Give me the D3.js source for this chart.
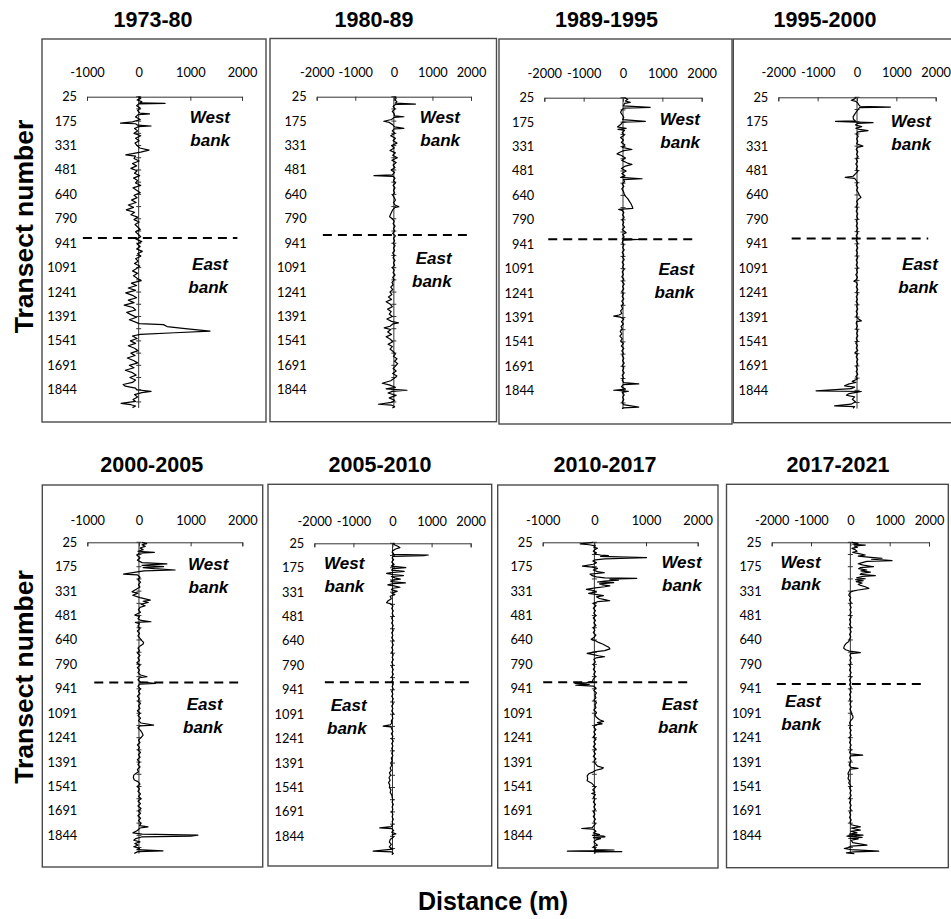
<!DOCTYPE html>
<html>
<head>
<meta charset="utf-8">
<title>Shoreline change by transect</title>
<script src="https://cdnjs.cloudflare.com/ajax/libs/d3/7.8.5/d3.min.js"></script>
<style>
  body { margin: 0; background: #fff; }
  .tick-lbl { font-family: Lato, "Open Sans", sans-serif; font-size: 12.8px; fill: #000; }
  .ttl { font-family: "Liberation Sans", Arial, sans-serif; font-weight: bold; }
  .bank { font-family: "Liberation Sans", Arial, sans-serif; font-weight: bold; font-style: italic; font-size: 17px; }
</style>
</head>
<body>
<script>
var width = 951,
    height = 919;

// periods (one panel each)
var titles = ["1973-80", "1980-89", "1989-1995", "1995-2000",
              "2000-2005", "2005-2010", "2010-2017", "2017-2021"];

// transect labels on the category axis (one every 150 transects)
var tickLabels = ["25", "175", "331", "481", "640", "790", "941",
                  "1091", "1241", "1391", "1541", "1691", "1844"];
var nTransects = 1912;

// value axis (distance, m) for every panel
var domains = [[-1000, 2000], [-2000, 2000], [-2000, 2000], [-2000, 2000],
               [-1000, 2000], [-2000, 2000], [-1000, 2000], [-2000, 2000]];
var distTicks = [[-1000, 0, 1000, 2000], [-2000, -1000, 0, 1000, 2000],
                 [-2000, -1000, 0, 1000, 2000], [-2000, -1000, 0, 1000, 2000],
                 [-1000, 0, 1000, 2000], [-2000, -1000, 0, 1000, 2000],
                 [-1000, 0, 1000, 2000], [-2000, -1000, 0, 1000, 2000]];

// where the west / east bank split sits (transect position)
var bankSplit = [868, 850, 870, 867, 861, 854, 860, 870];

// [transect position, distance m]
var s1973 = [[0,0],[10,40],[20,-30],[30,60],[38,20],[41,510],[44,0],[55,-40],[70,30],[85,-20],[100,20],[106,210],[110,-10],[125,-60],[140,30],[155,-120],[162,-350],[166,-60],[175,-20],[180,240],[184,0],[195,-80],[210,-20],[225,-90],[240,40],[255,-60],[270,10],[285,-70],[300,-30],[315,20],[328,200],[340,40],[350,-120],[357,-250],[365,-60],[380,-90],[395,10],[410,-120],[425,-40],[440,-150],[455,-30],[470,-80],[485,20],[500,-100],[515,-20],[530,-60],[545,40],[560,-110],[575,-40],[590,30],[605,-90],[620,-30],[635,-140],[650,-50],[665,-200],[680,-100],[695,-240],[710,-80],[725,-150],[740,-20],[755,-90],[770,10],[785,-70],[800,-20],[815,30],[830,-60],[845,-10],[860,40],[875,-50],[890,60],[905,-30],[920,30],[935,-40],[950,70],[965,-20],[980,40],[995,-60],[1010,-10],[1025,-80],[1040,20],[1055,-40],[1070,-120],[1085,-20],[1100,-100],[1115,-30],[1130,50],[1145,-140],[1160,-40],[1175,-200],[1190,-60],[1205,-250],[1220,-120],[1235,-40],[1250,-200],[1265,-90],[1280,-280],[1295,-110],[1310,-60],[1325,-230],[1340,-140],[1355,-40],[1370,-180],[1385,-60],[1394,10],[1400,480],[1412,550],[1425,900],[1440,1380],[1450,700],[1460,30],[1470,-120],[1485,-30],[1500,-160],[1515,-60],[1530,-200],[1545,-80],[1560,-10],[1575,-150],[1590,-70],[1605,-220],[1620,-100],[1635,-20],[1650,-180],[1665,-90],[1680,-260],[1695,-120],[1710,-50],[1725,-170],[1740,-60],[1755,-120],[1768,-300],[1778,-260],[1790,-60],[1800,-40],[1810,240],[1818,60],[1830,-80],[1845,-20],[1860,-110],[1872,-60],[1884,-340],[1892,-150],[1900,-60],[1910,-120]];

var s1980 = [[0,20],[10,60],[20,30],[30,80],[40,40],[45,560],[48,40],[60,-20],[75,30],[90,-40],[105,10],[118,20],[123,260],[127,10],[140,-60],[151,-260],[158,-120],[170,-40],[185,20],[194,260],[198,10],[210,-40],[225,30],[240,-80],[255,40],[270,-20],[285,80],[300,-60],[315,10],[330,-100],[345,40],[360,-30],[375,90],[390,-50],[405,60],[420,-20],[435,30],[450,-70],[465,20],[480,-40],[485,-515],[489,-20],[500,30],[515,-10],[530,40],[545,-20],[560,30],[575,-10],[590,20],[605,-30],[620,10],[635,40],[650,-10],[665,30],[676,130],[682,20],[695,-30],[710,-60],[725,-90],[737,-110],[750,-40],[765,10],[780,-20],[795,30],[810,-10],[825,20],[840,-30],[855,40],[870,-10],[885,20],[900,-20],[915,30],[930,-10],[945,20],[960,-30],[975,10],[990,-20],[1005,30],[1020,-10],[1035,20],[1050,-40],[1065,10],[1080,-20],[1095,30],[1110,-30],[1125,10],[1140,-50],[1155,-20],[1170,-80],[1185,-30],[1200,-100],[1215,-50],[1230,-140],[1245,-60],[1260,-200],[1275,-90],[1290,-40],[1305,-160],[1320,-70],[1335,-120],[1350,-40],[1365,-180],[1380,-60],[1389,120],[1395,-20],[1410,-100],[1420,-250],[1430,-80],[1445,-160],[1460,-60],[1475,-200],[1490,-90],[1505,-30],[1520,-150],[1535,-40],[1550,-100],[1565,-20],[1580,40],[1595,-10],[1610,80],[1625,20],[1640,100],[1655,40],[1670,-20],[1685,60],[1700,-30],[1715,80],[1730,10],[1745,-80],[1760,-300],[1770,-120],[1785,40],[1795,-200],[1803,340],[1810,-40],[1820,-150],[1835,60],[1850,-120],[1865,20],[1878,-60],[1889,-400],[1895,-50],[1905,20],[1912,-40]];

var s1989 = [[0,40],[10,120],[20,60],[29,185],[35,40],[50,10],[60,690],[64,20],[75,-30],[90,-60],[105,-20],[120,20],[135,-10],[146,566],[150,-10],[165,-60],[180,-140],[188,80],[194,-130],[200,40],[215,-20],[230,30],[245,-60],[260,10],[275,-40],[290,50],[305,-20],[318,228],[325,20],[335,-80],[345,-150],[355,-40],[370,60],[385,-30],[400,100],[410,228],[420,60],[435,-40],[450,80],[465,-30],[480,50],[490,-60],[498,485],[503,10],[515,40],[530,-20],[545,20],[560,-30],[575,10],[590,30],[605,60],[620,120],[635,160],[650,200],[665,230],[680,250],[686,-110],[692,-20],[705,20],[720,-10],[735,30],[750,-20],[765,20],[780,-10],[795,40],[810,-20],[830,80],[840,-10],[855,30],[868,-20],[871,400],[875,0],[890,-20],[905,20],[920,-10],[935,30],[950,-20],[965,20],[980,-10],[995,30],[1010,-20],[1025,20],[1040,-10],[1055,30],[1070,-20],[1085,10],[1100,-30],[1115,20],[1130,-20],[1145,30],[1160,-10],[1175,20],[1190,-30],[1205,10],[1220,-20],[1235,20],[1250,-30],[1265,10],[1280,-40],[1295,-10],[1310,-60],[1325,-30],[1335,-100],[1342,-236],[1348,-60],[1360,20],[1375,-40],[1390,10],[1405,-50],[1420,-20],[1435,-70],[1450,-30],[1465,-80],[1480,-20],[1495,-60],[1510,10],[1525,-40],[1540,20],[1555,-30],[1570,10],[1585,-20],[1600,20],[1615,-10],[1630,30],[1645,-20],[1660,20],[1675,-10],[1690,30],[1705,-20],[1720,10],[1735,-20],[1750,20],[1758,400],[1762,10],[1775,-40],[1790,60],[1797,-236],[1803,140],[1810,-20],[1825,30],[1840,-10],[1855,20],[1870,-20],[1885,10],[1901,400],[1905,0],[1912,-20]];

var s1995 = [[0,-20],[10,-60],[18,-145],[25,-30],[35,20],[45,40],[55,80],[60,850],[64,60],[75,30],[90,-20],[105,-60],[120,-100],[135,-90],[145,-40],[148,-545],[152,-20],[156,408],[160,20],[170,-40],[180,120],[190,-30],[197,60],[205,280],[212,20],[225,-10],[240,30],[255,-10],[270,20],[285,-10],[300,150],[308,10],[320,-20],[335,20],[350,-10],[365,30],[380,-20],[395,10],[410,-30],[425,10],[440,-20],[455,20],[470,-40],[485,-100],[492,-300],[498,-60],[510,-20],[525,10],[540,-20],[555,20],[570,-10],[585,30],[600,60],[615,100],[625,40],[640,-10],[655,20],[670,-20],[685,10],[700,-20],[715,20],[730,-10],[745,20],[760,-20],[775,10],[790,-20],[805,20],[820,-10],[835,20],[850,-20],[865,10],[880,-20],[895,20],[910,-10],[925,20],[940,-20],[955,10],[970,-10],[985,20],[1000,-20],[1015,10],[1030,-20],[1045,20],[1060,-10],[1075,10],[1090,-30],[1105,10],[1120,-20],[1130,-80],[1135,-20],[1150,10],[1165,-20],[1180,20],[1195,-10],[1210,20],[1225,-20],[1240,10],[1255,-20],[1270,20],[1285,-10],[1300,20],[1315,-20],[1330,10],[1345,-20],[1360,30],[1373,110],[1378,-10],[1390,-20],[1405,10],[1420,-20],[1435,20],[1450,-10],[1465,20],[1480,-20],[1495,10],[1510,-30],[1525,10],[1540,-20],[1555,20],[1568,-50],[1580,10],[1595,-20],[1610,20],[1625,-10],[1640,20],[1655,-20],[1670,10],[1685,-20],[1700,20],[1715,-30],[1730,10],[1745,-120],[1752,-30],[1760,-200],[1772,-315],[1780,-60],[1790,-150],[1803,-1040],[1807,110],[1812,-20],[1820,-200],[1830,-270],[1840,-60],[1855,-120],[1870,-40],[1885,-150],[1895,-570],[1900,-60],[1910,-100]];

var s2000 = [[0,60],[8,150],[15,60],[25,120],[35,20],[45,80],[55,-20],[62,297],[66,0],[80,-40],[95,20],[110,-30],[125,60],[133,540],[137,250],[142,60],[150,477],[155,80],[162,300],[170,700],[175,100],[183,-60],[195,-300],[200,-30],[215,20],[230,-20],[245,30],[260,-10],[275,20],[290,-60],[304,-135],[312,-20],[325,-120],[340,20],[355,220],[362,80],[370,180],[380,40],[390,120],[400,20],[415,-10],[430,30],[447,-80],[455,10],[470,-20],[480,40],[488,232],[492,-70],[500,10],[515,-20],[530,20],[545,-30],[560,10],[575,-20],[590,20],[605,60],[615,90],[625,80],[635,30],[650,-20],[665,10],[680,-30],[695,20],[710,-20],[725,10],[740,-40],[755,20],[770,-30],[785,10],[800,-20],[815,30],[826,155],[832,10],[845,-20],[858,30],[867,316],[871,10],[885,-20],[900,30],[915,-10],[930,20],[945,-30],[960,10],[975,-20],[990,30],[1005,-10],[1020,20],[1035,-30],[1050,20],[1065,-20],[1080,30],[1095,-10],[1110,40],[1123,284],[1128,20],[1140,-20],[1155,30],[1170,60],[1185,80],[1200,40],[1215,-10],[1230,20],[1245,-30],[1260,10],[1275,-20],[1290,30],[1305,-10],[1320,20],[1335,-30],[1350,10],[1365,-20],[1380,20],[1395,-30],[1410,-10],[1420,-60],[1430,-100],[1445,-110],[1460,-90],[1470,-20],[1485,20],[1500,-30],[1515,10],[1530,-20],[1545,30],[1560,-10],[1575,40],[1590,-20],[1605,30],[1620,-20],[1635,40],[1650,-10],[1665,30],[1680,-20],[1695,30],[1710,-10],[1725,40],[1740,10],[1748,175],[1755,20],[1770,-30],[1785,-116],[1792,60],[1799,1140],[1805,1000],[1810,50],[1820,-60],[1830,-100],[1840,20],[1850,-80],[1860,-20],[1870,-100],[1880,10],[1888,-40],[1895,465],[1900,-20],[1911,-90]];

var s2005 = [[0,10],[10,60],[20,150],[27,190],[35,80],[45,10],[55,-10],[62,30],[68,20],[72,915],[76,800],[80,20],[90,-10],[100,30],[115,-20],[130,40],[140,-30],[150,340],[155,10],[165,-20],[172,300],[178,20],[185,-150],[192,20],[198,280],[204,-30],[212,60],[220,200],[226,10],[235,-40],[243,330],[248,20],[255,-120],[262,40],[270,190],[276,10],[285,-30],[295,120],[305,-20],[315,60],[325,-60],[340,-30],[355,-120],[365,-150],[372,-40],[385,10],[400,-20],[415,20],[430,-10],[445,20],[460,-20],[475,10],[490,-20],[505,20],[520,-10],[535,20],[550,-20],[565,10],[580,-20],[595,20],[610,-10],[625,20],[640,-20],[655,10],[670,-20],[685,20],[700,-10],[715,20],[730,-20],[745,10],[760,-20],[775,20],[790,-10],[805,20],[820,-20],[835,10],[850,-20],[865,20],[880,-10],[895,20],[910,-20],[925,10],[940,-20],[955,20],[970,-10],[985,20],[1000,-20],[1015,10],[1030,-20],[1045,20],[1060,-10],[1075,10],[1090,-30],[1105,-20],[1115,-60],[1123,-240],[1128,-40],[1140,-20],[1155,10],[1170,-30],[1185,10],[1200,-20],[1215,20],[1230,-20],[1245,10],[1260,-20],[1275,10],[1290,-20],[1305,10],[1320,-30],[1335,-10],[1350,-40],[1365,-20],[1380,-60],[1395,-30],[1410,-80],[1425,-50],[1440,-90],[1455,-60],[1470,-100],[1485,-70],[1500,-80],[1515,-40],[1530,-60],[1545,-20],[1560,-10],[1575,10],[1590,-10],[1605,20],[1620,-10],[1635,10],[1650,-20],[1665,10],[1680,-10],[1695,20],[1710,-10],[1725,10],[1740,-30],[1748,-325],[1752,-20],[1765,30],[1775,-20],[1785,85],[1790,-10],[1805,20],[1820,-60],[1835,-80],[1850,-30],[1865,-80],[1878,10],[1891,-495],[1895,-20],[1905,20],[1912,-20]];

var s2010 = [[0,-30],[5,-150],[10,-275],[15,-100],[22,20],[30,-10],[37,60],[45,10],[55,-20],[65,40],[72,0],[78,120],[82,270],[86,120],[89,465],[94,1010],[98,660],[102,200],[108,20],[115,-30],[125,40],[135,-20],[146,-232],[152,-40],[160,60],[170,-20],[180,60],[187,195],[195,-85],[205,-40],[212,40],[218,200],[222,820],[226,300],[232,465],[238,200],[244,60],[248,375],[255,100],[262,160],[268,300],[273,200],[280,20],[289,-155],[296,-20],[305,40],[314,-110],[320,20],[328,175],[335,40],[345,100],[352,200],[359,300],[365,60],[375,-20],[390,30],[405,-20],[420,20],[435,-10],[450,30],[465,-20],[480,20],[495,-10],[510,30],[525,-20],[540,10],[555,-20],[570,30],[585,-10],[596,-60],[605,20],[615,80],[625,160],[635,220],[645,280],[655,300],[665,200],[672,40],[682,-140],[690,-20],[697,80],[703,200],[710,30],[720,-10],[735,20],[750,-20],[765,10],[780,-20],[795,20],[810,-10],[825,20],[840,-20],[855,-40],[862,-150],[867,-375],[873,-100],[878,-360],[883,-20],[895,30],[910,-10],[925,40],[940,10],[955,30],[970,-10],[985,40],[1000,10],[1015,30],[1030,-10],[1045,40],[1060,10],[1075,40],[1090,100],[1100,180],[1108,60],[1115,150],[1122,20],[1135,-10],[1150,30],[1165,-10],[1180,20],[1195,-20],[1210,30],[1225,-10],[1240,20],[1255,-20],[1270,30],[1285,-10],[1300,20],[1315,-20],[1330,30],[1345,-10],[1360,20],[1375,60],[1385,175],[1392,140],[1400,30],[1410,-20],[1420,-100],[1435,-140],[1450,-130],[1465,-140],[1478,-60],[1490,-20],[1505,20],[1520,-30],[1535,10],[1543,-50],[1550,20],[1565,-20],[1580,10],[1595,-20],[1610,20],[1625,-10],[1640,20],[1655,-20],[1670,10],[1685,-20],[1700,20],[1715,-10],[1730,20],[1745,-20],[1752,-40],[1758,-245],[1762,-20],[1775,30],[1785,-20],[1795,100],[1800,-30],[1805,180],[1809,206],[1814,-20],[1820,120],[1828,30],[1840,-10],[1850,20],[1860,60],[1870,-20],[1880,20],[1888,10],[1890,380],[1894,20],[1897,-522],[1900,530],[1904,30],[1912,0]];

var s2017 = [[0,40],[6,200],[12,60],[17,380],[22,100],[30,180],[37,40],[45,120],[55,170],[62,60],[70,220],[78,380],[85,200],[92,520],[98,805],[104,540],[110,900],[113,1060],[117,420],[125,300],[132,200],[140,330],[150,590],[155,260],[162,210],[170,420],[176,270],[183,510],[190,300],[197,250],[205,635],[210,300],[218,160],[224,380],[230,130],[236,330],[242,150],[250,300],[258,200],[265,260],[273,380],[283,470],[293,200],[300,60],[304,20],[312,-20],[325,-40],[340,10],[355,-20],[370,20],[385,-10],[400,20],[415,-10],[430,20],[445,-10],[460,20],[475,-20],[490,10],[505,-20],[520,20],[535,-10],[550,20],[565,-20],[580,10],[595,-20],[610,-40],[620,-100],[635,-150],[650,-170],[660,-120],[668,-20],[678,254],[684,10],[695,-10],[710,20],[725,-10],[740,20],[755,-20],[770,10],[785,-20],[800,20],[815,-10],[830,20],[845,-20],[860,10],[875,-20],[890,20],[905,-10],[920,20],[935,-20],[950,10],[965,-20],[980,20],[995,-10],[1010,20],[1025,-10],[1040,20],[1055,30],[1065,60],[1075,70],[1085,50],[1095,10],[1110,-20],[1125,10],[1140,-20],[1155,20],[1170,-10],[1185,20],[1200,-20],[1215,10],[1230,-20],[1245,20],[1260,-10],[1275,20],[1290,-20],[1300,10],[1307,314],[1312,10],[1325,-20],[1340,20],[1355,-10],[1370,-30],[1382,20],[1389,195],[1394,-10],[1405,-30],[1420,-60],[1435,-40],[1450,-60],[1465,-20],[1480,-40],[1495,10],[1510,-20],[1525,20],[1540,-10],[1555,20],[1570,-20],[1585,10],[1600,-20],[1615,20],[1630,-10],[1645,20],[1660,-20],[1675,10],[1690,-20],[1705,20],[1720,-10],[1735,20],[1748,254],[1755,20],[1768,254],[1775,10],[1785,170],[1792,-20],[1799,322],[1805,-85],[1812,300],[1818,-40],[1822,200],[1830,20],[1845,60],[1860,424],[1866,20],[1875,-60],[1881,-153],[1888,20],[1897,721],[1902,100],[1908,-100],[1912,100]];

var allSeries = [s1973, s1980, s1989, s1995, s2000, s2005, s2010, s2017];

// panel placement on the page (pixels) - not data
var layout = [
  {box: [42, 39, 266, 422],    xr: [87, 242],      top: 96.7,  tl: [153, 26.5],  pad: 20,   dash: [-1080, 1910], west: [230, 123.3],   east: [228, 270]},
  {box: [270, 38.5, 496.5, 421.7], xr: [316.7, 471], top: 96.7, tl: [374, 26.5], pad: 20,   dash: [-1840, 1920], west: [460, 123],     east: [451.7, 264]},
  {box: [499, 39, 732, 424],   xr: [544.3, 701.7], top: 97.7,  tl: [606.5, 26.5], pad: 20,  dash: [-1900, 1790], west: [700, 125],     east: [694.3, 275]},
  {box: [733.3, 39, 960, 422.7], xr: [778.3, 935.7], top: 97.3, tl: [825, 26.5], pad: 20,   dash: [-1660, 1810], west: [931, 127],     east: [938, 270]},
  {box: [42.3, 485, 262.7, 867], xr: [87.3, 242.3], top: 542.3, tl: [151.7, 471.5], pad: 17.5, dash: [-865, 1920], west: [228.3, 570], east: [222.7, 710]},
  {box: [268, 484.3, 491.7, 866], xr: [314.3, 470.7], top: 543.3, tl: [380, 471.5], pad: 17.5, dash: [-1730, 2010], west: [364.3, 569], east: [366.7, 711]},
  {box: [497.7, 485, 718, 868], xr: [542.7, 697.7], top: 542.3, tl: [605, 471.5], pad: 17.5,  dash: [-990, 1830], west: [701.7, 568],   east: [697.7, 710]},
  {box: [726.5, 484.3, 948.3, 867.7], xr: [771.7, 929], top: 542.3, tl: [838, 471.5], pad: 17.5, dash: [-1870, 1830], west: [820.7, 567.7], east: [821, 707]}
];

var pxPerTransect = 0.1628;

var svg = d3.select("body")
    .append("svg")
    .attr("width", width)
    .attr("height", height)
    .style("display", "block");

allSeries.forEach(function(series, i) {
    var L = layout[i];
    var g = svg.append("g");

    var x = d3.scaleLinear().domain(domains[i]).range(L.xr);
    var y = d3.scaleLinear()
        .domain([0, nTransects])
        .range([L.top, L.top + nTransects * pxPerTransect]);

    // panel frame
    g.append("rect")
        .attr("x", L.box[0]).attr("y", L.box[1])
        .attr("width", L.box[2] - L.box[0])
        .attr("height", L.box[3] - L.box[1])
        .attr("fill", "#fff")
        .attr("stroke", "#4a4a4a")
        .attr("stroke-width", 1.4);

    g.append("text")
        .attr("class", "ttl")
        .attr("x", L.tl[0]).attr("y", L.tl[1])
        .attr("text-anchor", "middle")
        .style("font-size", "21.5px")
        .text(titles[i]);

    // distance axis on top, ticks pointing down
    var xAxis = d3.axisTop(x)
        .tickValues(distTicks[i])
        .tickSizeInner(-4)
        .tickSizeOuter(-4)
        .tickPadding(L.pad)
        .tickFormat(function(d) { return String(d); });
    var gx = g.append("g")
        .attr("transform", "translate(0," + y(0) + ")")
        .call(xAxis);
    gx.selectAll("path, line").attr("stroke", "#333").attr("stroke-width", 1);
    gx.selectAll("text").attr("class", "tick-lbl");
    gx.attr("font-size", null).attr("font-family", null);

    // category axis along distance = 0
    var catTicks = d3.range(0, nTransects, 75);
    g.append("line")
        .attr("x1", x(0)).attr("x2", x(0))
        .attr("y1", y(0)).attr("y2", y(nTransects))
        .attr("stroke", "#333").attr("stroke-width", 1);
    g.selectAll("line.ctick")
        .data(catTicks)
        .enter().append("line")
        .attr("class", "ctick")
        .attr("x1", x(0) - 2.5).attr("x2", x(0) + 2.5)
        .attr("y1", function(d) { return y(d); })
        .attr("y2", function(d) { return y(d); })
        .attr("stroke", "#333").attr("stroke-width", 1);

    g.selectAll("text.ylab")
        .data(tickLabels)
        .enter().append("text")
        .attr("class", "tick-lbl")
        .attr("x", L.xr[0] - 10)
        .attr("y", function(d, k) { return y(k * 150); })
        .attr("dy", "0.35em")
        .attr("text-anchor", "end")
        .text(function(d) { return d; });

    // the profile line
    var line = d3.line()
        .x(function(d) { return x(d[1]); })
        .y(function(d) { return y(d[0]); });
    g.append("path")
        .datum(series)
        .attr("d", line)
        .attr("fill", "none")
        .attr("stroke", "#000")
        .attr("stroke-width", 1.2)
        .attr("stroke-linejoin", "round");

    // west / east split
    g.append("line")
        .attr("x1", x(L.dash[0])).attr("x2", x(L.dash[1]))
        .attr("y1", y(bankSplit[i])).attr("y2", y(bankSplit[i]))
        .attr("stroke", "#000")
        .attr("stroke-width", 2)
        .attr("stroke-dasharray", "9,6");

    [["West", "bank", L.west], ["East", "bank", L.east]].forEach(function(t) {
        var txt = g.append("text")
            .attr("class", "bank")
            .attr("text-anchor", "end");
        txt.append("tspan").attr("x", t[2][0]).attr("y", t[2][1]).text(t[0]);
        txt.append("tspan").attr("x", t[2][0]).attr("y", t[2][1] + 22.5).text(t[1]);
    });
});

// shared axis titles
[226.5, 677].forEach(function(cy) {
    svg.append("text")
        .attr("class", "ttl")
        .attr("transform", "translate(33," + cy + ") rotate(-90)")
        .attr("text-anchor", "middle")
        .style("font-size", "26.5px")
        .text("Transect number");
});

svg.append("text")
    .attr("class", "ttl")
    .attr("x", 493).attr("y", 910)
    .attr("text-anchor", "middle")
    .style("font-size", "25px")
    .text("Distance (m)");
</script>
</body>
</html>
